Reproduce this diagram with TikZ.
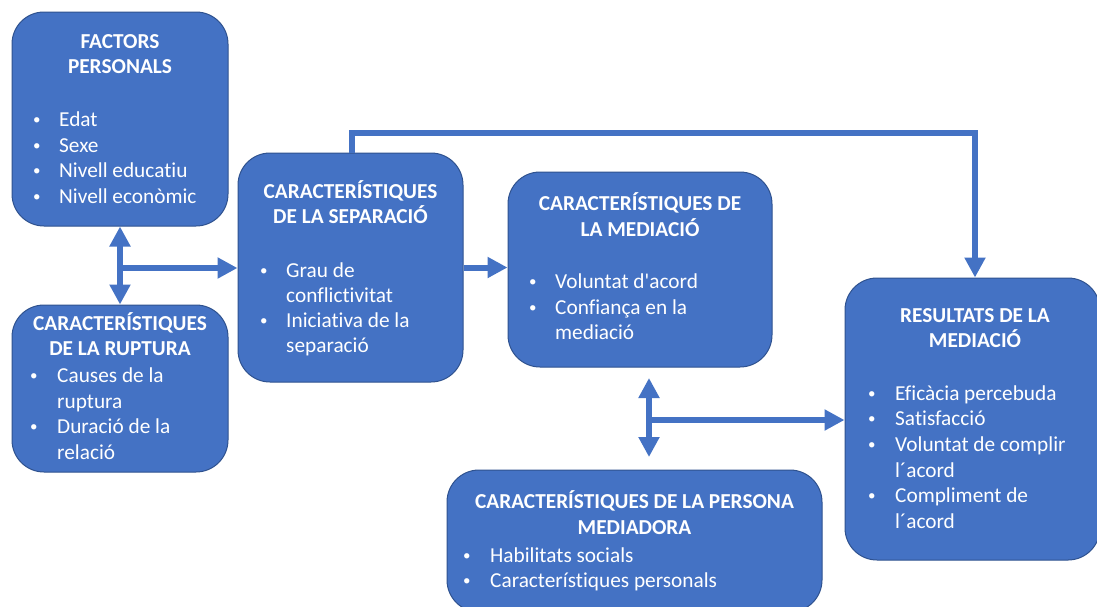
\documentclass[tikz,border=0pt]{standalone}
\usepackage{fontspec}
\newfontfamily\calfont{Carlito}[Ligatures=NoCommon]
\usetikzlibrary{arrows.meta}
\definecolor{boxblue}{HTML}{4472C4}
\definecolor{boxedge}{HTML}{2F528F}
\newcommand\bul{\raisebox{1.6pt}{\fontsize{15}{15}\selectfont\textbullet}}
\begin{document}
\begin{tikzpicture}[x=1pt,y=-1pt,
  box/.style={draw=boxedge, line width=1pt, fill=boxblue, rounded corners=32pt, inner sep=0pt},
  head/.style={text=white, font=\calfont\bfseries\fontsize{21.3}{25.7}\selectfont, anchor=base, inner sep=0pt},
  item/.style={text=white, font=\calfont\fontsize{21.3}{25.7}\selectfont, anchor=base west, inner sep=0pt},
  conn/.style={draw=boxblue, line width=6pt},
  tip/.style={-{Triangle[width=20pt,length=20pt]}},
  tiptwo/.style={{Triangle[width=20pt,length=20pt]}-{Triangle[width=20pt,length=20pt]}}]
\useasboundingbox (0,0) rectangle (1097,606);
\fill[white] (0,0) rectangle (1097,606);
% boxes
\node[box, minimum width=216pt, minimum height=214pt] (fp) at (120,119) {};
\node[box, minimum width=216pt, minimum height=167pt] (cr) at (120,388.5) {};
\node[box, minimum width=225pt, minimum height=229pt] (cs) at (350.5,267.5) {};
\node[box, minimum width=264pt, minimum height=195pt] (cm) at (640,269.5) {};
\node[box, minimum width=375pt, minimum height=142pt] (cp) at (634.5,541) {};
\node[box, minimum width=255pt, minimum height=282pt] (rm) at (972.5,419) {};
% FACTORS PERSONALS
\node[head] (fph1) at (120,48) {FACTORS};
\node[head] (fph2) at (120,73) {PERSONALS};
\node[item] (fpb1) at (33,126) {\bul};
\node[item] (fpb2) at (33,152) {\bul};
\node[item] (fpb3) at (33,177) {\bul};
\node[item] (fpb4) at (33,203) {\bul};
\node[item] (fpt1) at (59,126) {Edat};
\node[item] (fpt2) at (59,152) {Sexe};
\node[item] (fpt3) at (59,177) {Nivell educatiu};
\node[item] (fpt4) at (59,203) {Nivell econòmic};
% CARACTERISTIQUES DE LA RUPTURA
\node[head] (crh1) at (120,330) {CARACTERÍSTIQUES};
\node[head] (crh2) at (120,355) {DE LA RUPTURA};
\node[item] (crb1) at (30,382) {\bul};
\node[item] (crb2) at (30,433) {\bul};
\node[item] (crt1) at (57,382) {Causes de la};
\node[item] (crt2) at (57,408) {ruptura};
\node[item] (crt3) at (57,433) {Duració de la};
\node[item] (crt4) at (57,459) {relació};
% CARACTERISTIQUES DE LA SEPARACIO
\node[head] (csh1) at (350.5,198) {CARACTERÍSTIQUES};
\node[head] (csh2) at (350.5,223) {DE LA SEPARACIÓ};
\node[item] (csb1) at (260,277) {\bul};
\node[item] (csb2) at (260,327) {\bul};
\node[item] (cst1) at (286,277) {Grau de};
\node[item] (cst2) at (286,302) {conflictivitat};
\node[item] (cst3) at (286,327) {Iniciativa de la};
\node[item] (cst4) at (286,352) {separació};
% CARACTERISTIQUES DE LA MEDIACIO
\node[head] (cmh1) at (640,210) {CARACTERÍSTIQUES DE};
\node[head] (cmh2) at (640,236) {LA MEDIACIÓ};
\node[item] (cmb1) at (529,288) {\bul};
\node[item] (cmb2) at (529,314) {\bul};
\node[item] (cmt1) at (555,288) {Voluntat d'acord};
\node[item] (cmt2) at (555,314) {Confiança en la};
\node[item] (cmt3) at (555,339) {mediació};
% CARACTERISTIQUES DE LA PERSONA MEDIADORA
\node[head] (cph1) at (634.5,508) {CARACTERÍSTIQUES DE LA PERSONA};
\node[head] (cph2) at (634.5,534) {MEDIADORA};
\node[item] (cpb1) at (463,562) {\bul};
\node[item] (cpb2) at (463,587) {\bul};
\node[item] (cpt1) at (490,562) {Habilitats socials};
\node[item] (cpt2) at (490,587) {Característiques personals};
% RESULTATS DE LA MEDIACIO
\node[head] (rmh1) at (975,322) {RESULTATS DE LA};
\node[head] (rmh2) at (975,347) {MEDIACIÓ};
\node[item] (rmb1) at (868,400) {\bul};
\node[item] (rmb2) at (868,425) {\bul};
\node[item] (rmb3) at (868,451) {\bul};
\node[item] (rmb4) at (868,502) {\bul};
\node[item] (rmt1) at (895,400) {Eficàcia percebuda};
\node[item] (rmt2) at (895,425) {Satisfacció};
\node[item] (rmt3) at (895,451) {Voluntat de complir};
\node[item] (rmt4) at (895,477) {l´acord};
\node[item] (rmt5) at (895,502) {Compliment de};
\node[item] (rmt6) at (895,528) {l´acord};
% connectors
\coordinate (j1) at (120,268);
\coordinate (tr) at (975,133);
\coordinate (v1) at (649,378);
\coordinate (v2) at (649,457);
\coordinate (j2) at (649,420);
\draw[conn, tiptwo] (fp.south) -- (cr.north);
\draw[conn, tip] (j1) -- (j1 -| cs.west);
\draw[conn, tip] (cs.east) -- (cs.east -| cm.west);
\draw[conn, tip] ([xshift=1.5pt]cs.north) |- (tr) -- (tr |- rm.north);
\draw[conn, tiptwo] (v1) -- (v2);
\draw[conn, tip] (j2) -- (j2 -| rm.west);
\end{tikzpicture}
\end{document}
